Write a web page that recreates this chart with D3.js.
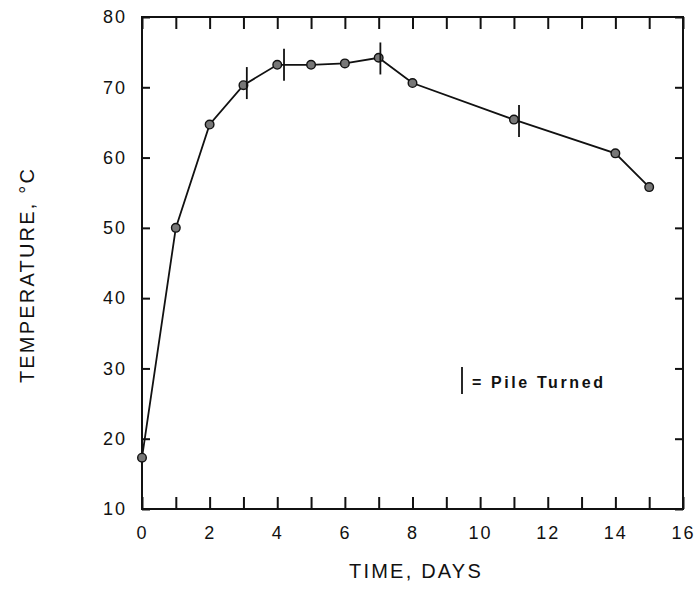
<!DOCTYPE html>
<html>
<head>
<meta charset="utf-8">
<script src="https://cdn.jsdelivr.net/npm/d3@7"></script>
<style>
  body { margin: 0; background: #fff; }
  text { font-family: "Liberation Sans", Arial, sans-serif; fill: #111; }
</style>
</head>
<body>
<div id="chart"></div>
<script>
// Temperature readings
const days = [0, 1, 2, 3, 4, 5, 6, 7, 8, 11, 14, 15];
const temps = [17.3, 50.0, 64.7, 70.3, 73.2, 73.2, 73.4, 74.2, 70.6, 65.4, 60.6, 55.8];

// Pile turned marks (just after the reading)
const turnDays = [3.1, 4.2, 7.05, 11.15];
const turnTemps = [70.6, 73.2, 74.1, 65.2];

const xTickLabels = [0, 2, 4, 6, 8, 10, 12, 14, 16];
const yTickLabels = [10, 20, 30, 40, 50, 60, 70, 80];

const width = 698, height = 607;
const margin = { left: 142, right: 15, top: 17, bottom: 98 };

const svg = d3.select("#chart").append("svg")
    .attr("width", width)
    .attr("height", height);

const x = d3.scaleLinear().domain([0, 16]).range([margin.left, width - margin.right]);
const y = d3.scaleLinear().domain([10, 80]).range([height - margin.bottom, margin.top]);

const ink = "#111";

// frame
svg.append("rect")
    .attr("x", x(0)).attr("y", y(80))
    .attr("width", x(16) - x(0)).attr("height", y(10) - y(80))
    .attr("fill", "none").attr("stroke", ink).attr("stroke-width", 2);

// ticks point inward on all sides
const dayTicks = d3.range(0, 17);
const tempTicks = d3.range(10, 81, 10);

let xBottom = svg.append("g")
    .attr("transform", `translate(0,${y(10)})`)
    .call(d3.axisBottom(x).tickValues(dayTicks).tickSizeInner(-12).tickSizeOuter(0)
        .tickFormat(d => xTickLabels.includes(d) ? d : ""));
xBottom.select(".domain").remove();
xBottom.selectAll("line").attr("stroke", ink).attr("stroke-width", 2);
xBottom.selectAll("text").attr("y", 17).attr("font-size", 18).attr("letter-spacing", 2);

let xTop = svg.append("g")
    .attr("transform", `translate(0,${y(80)})`)
    .call(d3.axisTop(x).tickValues(dayTicks).tickSizeInner(-12).tickSizeOuter(0).tickFormat(""));
xTop.select(".domain").remove();
xTop.selectAll("line").attr("stroke", ink).attr("stroke-width", 2);

let yLeft = svg.append("g")
    .attr("transform", `translate(${x(0)},0)`)
    .call(d3.axisLeft(y).tickValues(tempTicks).tickSizeInner(-8).tickSizeOuter(0)
        .tickFormat(d => yTickLabels.includes(d) ? d : ""));
yLeft.select(".domain").remove();
yLeft.selectAll("line").attr("stroke", ink).attr("stroke-width", 2);
yLeft.selectAll("text").attr("x", -15).attr("font-size", 18).attr("letter-spacing", 2);

let yRight = svg.append("g")
    .attr("transform", `translate(${x(16)},0)`)
    .call(d3.axisRight(y).tickValues(tempTicks).tickSizeInner(-8).tickSizeOuter(0).tickFormat(""));
yRight.select(".domain").remove();
yRight.selectAll("line").attr("stroke", ink).attr("stroke-width", 2);

// axis titles
svg.append("text")
    .attr("x", 416).attr("y", 578)
    .attr("text-anchor", "middle")
    .attr("font-size", 20).attr("letter-spacing", 2.2)
    .text("TIME, DAYS");

svg.append("text")
    .attr("transform", "translate(34,275) rotate(-90)")
    .attr("text-anchor", "middle")
    .attr("font-size", 20).attr("letter-spacing", 2.2)
    .text("TEMPERATURE, °C");

// data line
const pts = days.map((d, i) => [d, temps[i]]);
svg.append("path")
    .datum(pts)
    .attr("fill", "none")
    .attr("stroke", ink)
    .attr("stroke-width", 1.8)
    .attr("d", d3.line().x(d => x(d[0])).y(d => y(d[1])));

svg.selectAll("circle.pt")
    .data(pts)
    .enter()
    .append("circle")
    .attr("class", "pt")
    .attr("cx", d => x(d[0]))
    .attr("cy", d => y(d[1]))
    .attr("r", 4.3)
    .attr("fill", "#777")
    .attr("stroke", ink)
    .attr("stroke-width", 1.4);

// pile turned marks
svg.selectAll("line.turn")
    .data(turnDays)
    .enter()
    .append("line")
    .attr("class", "turn")
    .attr("x1", d => x(d)).attr("x2", d => x(d))
    .attr("y1", (d, i) => y(turnTemps[i]) - 16)
    .attr("y2", (d, i) => y(turnTemps[i]) + 16)
    .attr("stroke", ink)
    .attr("stroke-width", 1.8);

// legend
svg.append("line")
    .attr("x1", 462).attr("x2", 462)
    .attr("y1", 367).attr("y2", 394)
    .attr("stroke", ink).attr("stroke-width", 1.8);
svg.append("text")
    .attr("x", 472).attr("y", 388)
    .attr("font-size", 16).attr("font-weight", "bold").attr("letter-spacing", 2.6)
    .text("= Pile Turned");
</script>
</body>
</html>
